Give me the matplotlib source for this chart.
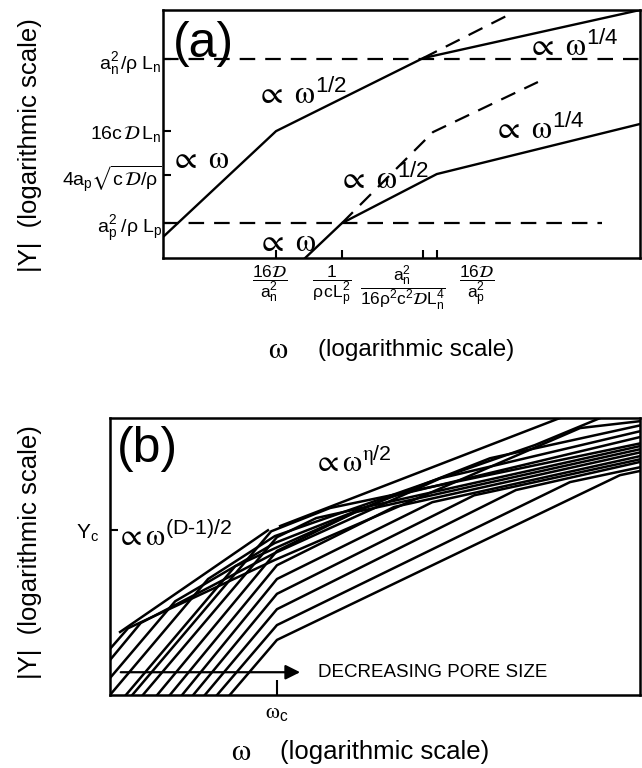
import matplotlib
matplotlib.use('Agg')
import matplotlib.pyplot as plt

plt.rcParams['font.family'] = ['Liberation Sans', 'DejaVu Sans']
plt.rcParams['mathtext.fontset'] = 'stix'
plt.rcParams['mathtext.default'] = 'regular'

# ---------- panel (a): single pore admittance (log units) ----------
upper_x = [0.0, 2.37, 5.45, 10.0]
upper_y = [0.44, 2.66, 4.19, 5.2]
upper_dash_x = [5.45, 7.23]
upper_dash_y = [4.19, 5.09]
lower_x = [2.98, 3.75, 5.74, 10.0]
lower_y = [0.0, 0.73, 1.76, 2.81]
lower_dash_x = [3.75, 5.66, 7.86]
lower_dash_y = [0.73, 2.64, 3.69]
level_n = 4.17
level_p = 0.73
level_p_end = 9.21

a_yticks = [0.73, 1.74, 2.66, 4.17]
a_ylabels = [r'$a_p^2\ /\rho\ L_p$', r'$4a_p\sqrt{c\,\mathcal{D}/\rho}$',
             r'$16c\,\mathcal{D}\,L_n$', r'$a_n^2\,/\rho\ L_n$']
a_xticks = [2.37, 3.75, 5.45, 5.74]
a_xlabel_pos = [2.24, 3.54, 5.03, 6.58]
a_xlabels = [r'$\dfrac{16\mathcal{D}}{a_n^2}$', r'$\dfrac{1}{\rho\, c L_p^2}$',
             r'$\dfrac{a_n^2}{16\rho^2c^2\mathcal{D}L_n^4}$', r'$\dfrac{16\mathcal{D}}{a_p^2}$']

# ---------- panel (b): family of pores ----------
env_x = [[0.19, 2.98], [3.21, 8.49]]
env_y = [[1.19, 3.11], [3.19, 5.23]]
curves_x = [
    [2.26, 3.15, 9.62, 10.0],
    [2.02, 3.15, 8.68, 10.0],
    [1.79, 3.15, 7.66, 10.0],
    [1.57, 3.15, 6.87, 10.0],
    [1.36, 3.15, 6.08, 10.0],
    [1.13, 3.15, 5.36, 10.0],
    [0.89, 3.15, 4.62, 10.0],
    [0.62, 3.15, 3.89, 10.0],
    [0.42, 3.04, 4.15, 10.0],
    [0.30, 2.36, 3.11, 5.28, 10.0],
    [0.0, 1.85, 3.11, 8.02, 9.25],
    [0.0, 1.23, 3.11, 7.17, 10.0],
    [0.0, 0.58, 3.11, 6.23, 10.0],
    [0.0, 0.34, 3.11, 8.87, 10.0],
]
curves_y = [
    [0.0, 1.04, 4.15, 4.23],
    [0.0, 1.32, 4.02, 4.30],
    [0.0, 1.62, 3.87, 4.40],
    [0.0, 1.91, 3.77, 4.45],
    [0.0, 2.19, 3.64, 4.51],
    [0.0, 2.45, 3.55, 4.58],
    [0.0, 2.72, 3.45, 4.64],
    [0.0, 2.98, 3.34, 4.70],
    [0.0, 3.09, 3.53, 4.75],
    [0.0, 2.43, 2.77, 3.74, 4.87],
    [0.0, 2.19, 3.00, 4.72, 5.23],
    [0.32, 1.77, 2.87, 4.47, 5.09],
    [0.66, 1.36, 2.68, 4.09, 4.98],
    [0.87, 1.26, 2.55, 5.04, 5.17],
]
omega_c = 3.15
Y_c = 3.11
arrow_y = 0.43
arrow_x = [0.15, 3.64]

fig = plt.figure(figsize=(6.42, 7.68), dpi=100)

# ---------------- (a) ----------------
ax = fig.add_axes([163/642, 1-258/768, 477/642, 248/768])
ax.set_xlim(0, 10)
ax.set_ylim(0, 5.2)
dash = (0, (7, 4.5))
ax.plot(upper_x, upper_y, 'k', lw=1.7)
ax.plot(upper_dash_x, upper_dash_y, 'k', lw=1.6, ls=dash)
ax.plot(lower_x, lower_y, 'k', lw=1.7)
ax.plot(lower_dash_x, lower_dash_y, 'k', lw=1.6, ls=dash)
ax.plot([0, 10], [level_n, level_n], 'k', lw=1.6, ls=dash)
ax.plot([0, level_p_end], [level_p, level_p], 'k', lw=1.6, ls=dash)

ax.set_yticks(a_yticks)
ax.set_yticklabels(a_ylabels)
ax.set_xticks(a_xticks)
ax.set_xticklabels([])
ax.tick_params(direction='in', length=6, width=1.5, labelsize=14, pad=1)
for s in ax.spines.values():
    s.set_linewidth(1.8)
for xp, lab in zip(a_xlabel_pos, a_xlabels):
    ax.text(xp, -0.12, lab, fontsize=12.5, ha='center', va='top')

ax.text(0.84, 4.49, '(a)', fontsize=36, ha='center', va='center')
prop = r'$\mathrm{\propto}\ \mathrm{\omega}$'
ax.text(0.78, 2.05, prop, fontsize=23, ha='center', va='center')
ax.text(2.60, 0.31, prop, fontsize=23, ha='center', va='center')
ax.text(2.91, 3.42, r'$\mathrm{\propto}\ \mathrm{\omega}^{1/2}$', fontsize=23, ha='center', va='center')
ax.text(4.63, 1.64, r'$\mathrm{\propto}\ \mathrm{\omega}^{1/2}$', fontsize=23, ha='center', va='center')
ax.text(8.60, 4.42, r'$\mathrm{\propto}\ \mathrm{\omega}^{1/4}$', fontsize=23, ha='center', va='center')
ax.text(7.88, 2.68, r'$\mathrm{\propto}\ \mathrm{\omega}^{1/4}$', fontsize=23, ha='center', va='center')

fig.text(278/642, 1-350/768, r'$\mathrm{\omega}$', fontsize=22, ha='center', va='center')
fig.text(318/642, 1-350/768, '(logarithmic scale)', fontsize=17.5, ha='left', va='center')
fig.text(30/642, 1-145/768, '|Y|  (logarithmic scale)', fontsize=18.5, rotation=90,
         ha='center', va='center')

# ---------------- (b) ----------------
bx = fig.add_axes([110/642, 1-695/768, 530/642, 277/768])
bx.set_xlim(0, 10)
bx.set_ylim(0, 5.23)
for xs, ys in zip(curves_x, curves_y):
    bx.plot(xs, ys, 'k', lw=1.8)
for xs, ys in zip(env_x, env_y):
    bx.plot(xs, ys, 'k', lw=1.8)
bx.annotate('', xy=(arrow_x[1], arrow_y), xytext=(arrow_x[0], arrow_y),
            arrowprops=dict(arrowstyle='-|>', color='k', lw=1.6, mutation_scale=22))
bx.text(3.92, arrow_y, 'DECREASING PORE SIZE', fontsize=13.5, ha='left', va='center')

bx.set_xticks([omega_c])
bx.set_xticklabels([r'$\mathrm{\omega}_c$'])
bx.set_yticks([Y_c])
bx.set_yticklabels([r'$Y_c$'])
bx.tick_params(axis='x', direction='in', length=11, width=1.5, labelsize=16, pad=6)
bx.tick_params(axis='y', direction='in', length=6, width=1.5, labelsize=15, pad=8)
for s in bx.spines.values():
    s.set_linewidth(1.8)

bx.text(0.70, 4.64, '(b)', fontsize=36, ha='center', va='center')
bx.text(1.21, 2.98, r'$\mathrm{\propto\omega}^{(D\text{-}1)/2}$', fontsize=22, ha='center', va='center')
bx.text(4.58, 4.38, r'$\mathrm{\propto\omega}^{\mathrm{\eta}/2}$', fontsize=22, ha='center', va='center')

fig.text(241/642, 1-752/768, r'$\mathrm{\omega}$', fontsize=22, ha='center', va='center')
fig.text(280/642, 1-752/768, '(logarithmic scale)', fontsize=18.5, ha='left', va='center')
fig.text(30/642, 1-552/768, '|Y|  (logarithmic scale)', fontsize=18.5, rotation=90,
         ha='center', va='center')

fig.savefig('out.png', dpi=100)
